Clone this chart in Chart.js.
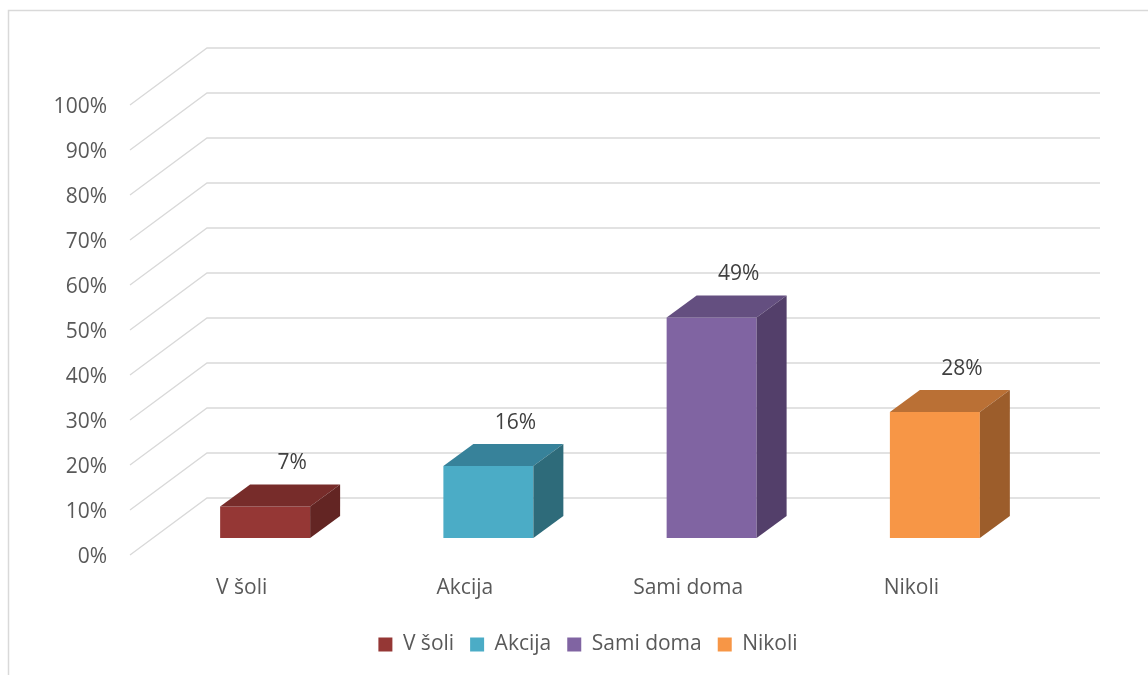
<!DOCTYPE html>
<html>
<head>
<meta charset="utf-8">
<script src="https://cdn.jsdelivr.net/npm/chart.js@4.4.1/dist/chart.umd.min.js"></script>
<style>
html,body{margin:0;padding:0;background:#fff;}
#wrap{width:1148px;height:675px;position:relative;}
</style>
</head>
<body>
<div id="wrap"><canvas id="c" width="1148" height="675"></canvas></div>
<script>
// ---- data ----
const categories = ['V šoli', 'Akcija', 'Sami doma', 'Nikoli'];
const values = [7, 16, 49, 28];
const yTickValues = [0, 10, 20, 30, 40, 50, 60, 70, 80, 90, 100];

// ---- styles ----
const frontColors = ['#953735', '#4BACC6', '#8064A2', '#F79646'];
const topColors   = ['#772C2A', '#37829A', '#644F80', '#BA7035'];
const sideColors  = ['#632523', '#2E6B7A', '#533F6A', '#9C5D2B'];
const FONT = '"Open Sans", "Noto Sans", sans-serif';
const GRID = '#D9D9D9';
const TEXT = '#595959';

// 3D geometry offsets (px)
const WALL = {dx: 77, dy: -57};   // depth of floor / walls
const BAR  = {dx: 30, dy: -22};   // depth of each bar
const SHIFT = {x: 23.5, y: -17};  // bar front face position inside floor depth

const threeD = {
  id: 'threeD',
  beforeDraw(chart) {
    const ctx = chart.ctx;
    ctx.save();
    ctx.strokeStyle = GRID;
    ctx.lineWidth = 1.5;
    ctx.strokeRect(8.5, 10.5, 1200, 800);
    ctx.restore();
  },
  beforeDatasetsDraw(chart) {
    const ctx = chart.ctx;
    const ys = chart.scales.y;
    const xs = chart.scales.x;
    const left = xs.left;
    const right = 1100;
    ctx.save();
    ctx.strokeStyle = GRID;
    ctx.lineWidth = 1.3;
    yTickValues.forEach(v => {
      const y = ys.getPixelForValue(v);
      ctx.beginPath();
      ctx.moveTo(left, y);
      ctx.lineTo(left + WALL.dx, y + WALL.dy);
      ctx.lineTo(right, y + WALL.dy);
      ctx.stroke();
    });
    ctx.restore();
    ctx.save();
    ctx.translate(SHIFT.x, SHIFT.y);
  },
  afterDatasetsDraw(chart) {
    const ctx = chart.ctx;
    ctx.restore();
    const meta = chart.getDatasetMeta(0);
    ctx.save();
    meta.data.forEach((el, i) => {
      const p = el.getProps(['x', 'y', 'base', 'width'], true);
      const L = p.x - p.width / 2 + SHIFT.x;
      const R = p.x + p.width / 2 + SHIFT.x;
      const T = Math.min(p.y, p.base) + SHIFT.y;
      const B = Math.max(p.y, p.base) + SHIFT.y;
      // top face
      ctx.fillStyle = topColors[i];
      ctx.beginPath();
      ctx.moveTo(L, T);
      ctx.lineTo(R, T);
      ctx.lineTo(R + BAR.dx, T + BAR.dy);
      ctx.lineTo(L + BAR.dx, T + BAR.dy);
      ctx.closePath();
      ctx.fill();
      // side face
      ctx.fillStyle = sideColors[i];
      ctx.beginPath();
      ctx.moveTo(R, T);
      ctx.lineTo(R + BAR.dx, T + BAR.dy);
      ctx.lineTo(R + BAR.dx, B + BAR.dy);
      ctx.lineTo(R, B);
      ctx.closePath();
      ctx.fill();
      // data label
      ctx.fillStyle = '#404040';
      ctx.font = '21px ' + FONT;
      ctx.textAlign = 'center';
      ctx.textBaseline = 'middle';
      ctx.fillText(values[i] + '%', p.x + SHIFT.x + 27, T + BAR.dy - 21);
    });
    ctx.restore();
  }
};

new Chart(document.getElementById('c'), {
  type: 'bar',
  data: {
    labels: categories,
    datasets: [{
      data: values,
      backgroundColor: frontColors,
      borderWidth: 0,
      categoryPercentage: 1,
      barPercentage: 0.403,
      clip: false
    }]
  },
  options: {
    responsive: false,
    animation: false,
    devicePixelRatio: 1,
    layout: {padding: {left: 28, right: 0, top: 105, bottom: 10}},
    plugins: {
      tooltip: {enabled: false},
      legend: {
        position: 'bottom',
        labels: {
          boxWidth: 14,
          boxHeight: 14,
          padding: 16,
          color: TEXT,
          font: {family: FONT, size: 21},
          generateLabels: () => categories.map((c, i) => ({
            text: c,
            fillStyle: frontColors[i],
            strokeStyle: frontColors[i],
            lineWidth: 0,
            hidden: false,
            index: i,
            fontColor: TEXT
          }))
        },
        onClick: null
      }
    },
    scales: {
      x: {
        grid: {display: false, drawTicks: false},
        border: {display: false},
        ticks: {color: TEXT, font: {family: FONT, size: 21}, padding: 20},
        afterFit(s) { s.height = 63; }
      },
      y: {
        min: 0, max: 100,
        grid: {display: false, drawTicks: false},
        border: {display: false},
        afterBuildTicks(s) { s.ticks = yTickValues.map(v => ({value: v})); },
        ticks: {
          color: TEXT,
          font: {family: FONT, size: 21},
          padding: 23,
          labelOffset: 2,
          callback: v => v + '%'
        },
        afterFit(s) { s.width = 102; }
      },
      y2: {
        type: 'linear',
        position: 'right',
        min: 0, max: 100,
        grid: {display: false, drawTicks: false},
        border: {display: false},
        ticks: {display: false},
        afterFit(s) { s.width = 125; }
      }
    }
  },
  plugins: [threeD]
});
</script>
</body>
</html>
